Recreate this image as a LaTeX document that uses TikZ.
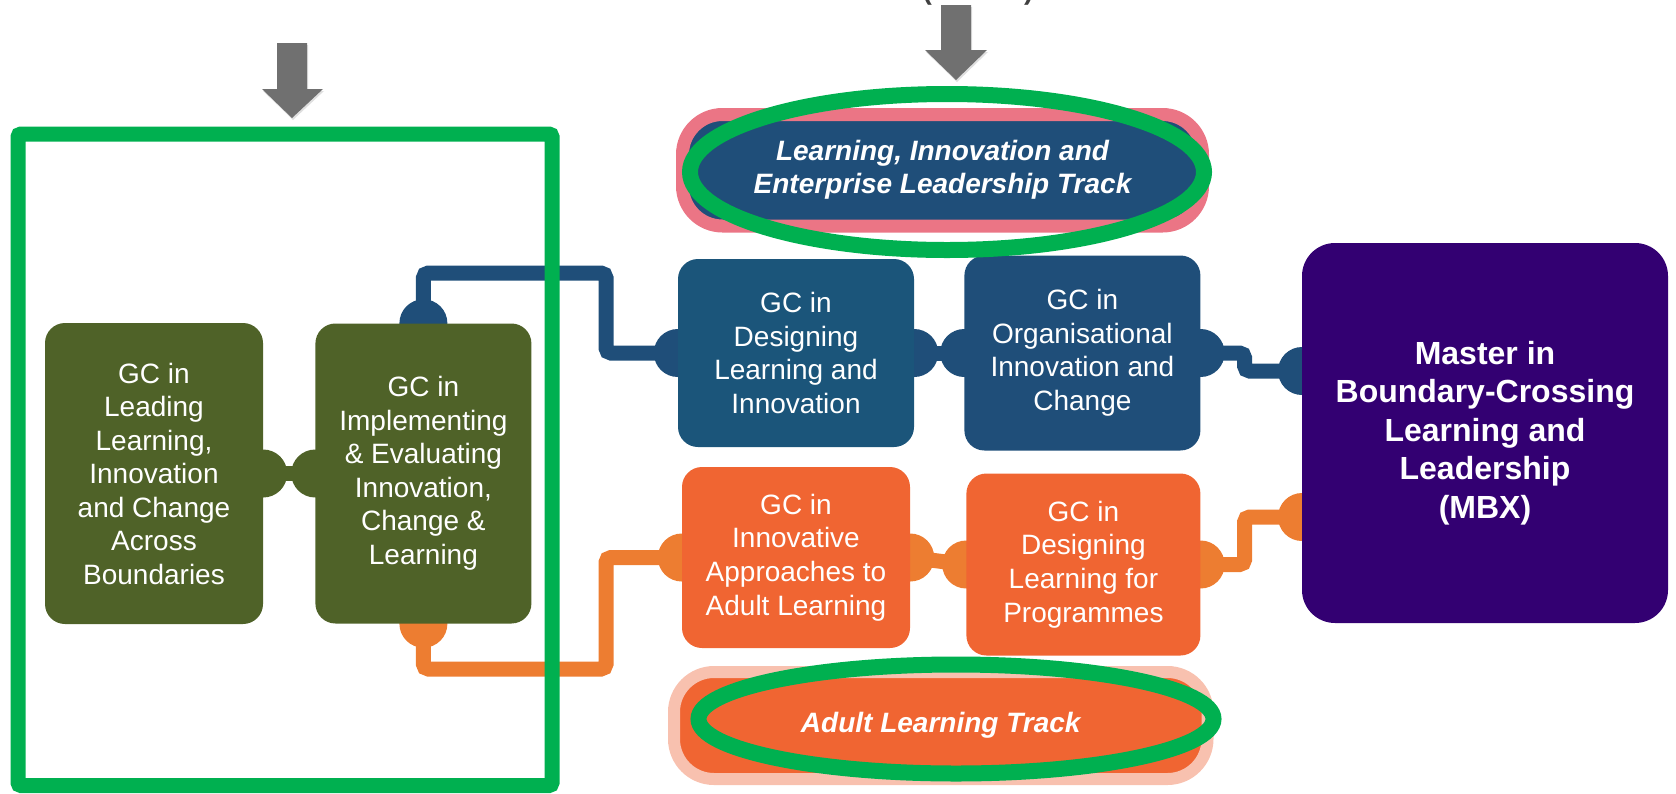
\documentclass[tikz,border=0pt]{standalone}
\usepackage{fontspec}
\setmainfont{Liberation Sans}
\usetikzlibrary{positioning, backgrounds, shadows}

\definecolor{olivebox}{RGB}{79,98,40}
\definecolor{desblue}{RGB}{27,85,122}
\definecolor{orgblue}{RGB}{31,78,121}
\definecolor{linkblue}{RGB}{31,78,121}
\definecolor{orangebox}{RGB}{240,101,50}
\definecolor{linkorange}{RGB}{237,125,49}
\definecolor{mbxpurple}{RGB}{51,0,114}
\definecolor{trackpink}{RGB}{235,117,133}
\definecolor{tracksalmon}{RGB}{248,193,175}
\definecolor{markgreen}{RGB}{0,176,80}
\definecolor{arrowgray}{RGB}{112,112,112}
\definecolor{hintgray}{RGB}{64,64,64}

\begin{document}
\begin{tikzpicture}[x=1pt, y=-1pt,
    gcbox/.style = {rounded corners=20pt, text=white, align=center, inner sep=0pt,
                    font=\fontsize{28}{33.5}\selectfont},
    trackbox/.style = {rounded corners=40pt, text=white, align=center, inner sep=0pt,
                    font=\fontsize{28}{33}\selectfont\bfseries\itshape},
    link/.style = {line width=15pt, rounded corners=5pt},
    greenmark/.style = {draw=markgreen, line width=16pt},
    downarrow/.style = {fill=arrowgray, drop shadow={opacity=0.25, shadow xshift=1pt, shadow yshift=-2pt}}]
    \useasboundingbox (0,0) rectangle (1676,793);

    % graduate certificates
    \node[gcbox, fill=olivebox, minimum width=218pt, minimum height=301pt] (lead) at (154,473.5)
        {GC in\\Leading\\Learning,\\Innovation\\and Change\\Across\\Boundaries};
    \node[gcbox, fill=olivebox, minimum width=216pt, minimum height=300pt] (impl) [right=52pt of lead]
        {GC in\\Implementing\\\& Evaluating\\Innovation,\\Change \&\\Learning};
    \node[gcbox, fill=desblue, minimum width=236pt, minimum height=188pt] (desli) at (796,353)
        {GC in\\Designing\\Learning and\\Innovation};
    \node[gcbox, fill=orgblue, minimum width=236pt, minimum height=195pt] (orgic) [right=50pt of desli]
        {GC in\\Organisational\\Innovation and\\Change};
    \node[gcbox, fill=orangebox, minimum width=228pt, minimum height=181pt] (innov) at (796,557.5)
        {GC in\\Innovative\\Approaches to\\Adult Learning};
    \node[gcbox, fill=orangebox, minimum width=234pt, minimum height=182pt] (desprog) [right=56pt of innov, yshift=-7pt]
        {GC in\\Designing\\Learning for\\Programmes};
    \node[gcbox, rounded corners=33pt, fill=mbxpurple, minimum width=366pt, minimum height=380pt,
          font=\fontsize{32}{38.5}\selectfont\bfseries] (mbx) at (1485,433)
        {Master in\\Boundary-Crossing\\Learning and\\Leadership\\(MBX)};
    \coordinate (mbxlie) at (1302,371);
    \coordinate (mbxal) at (1302,517);
    \coordinate (lieturn) at (606,273);
    \coordinate (alturn) at (606,669);

    % links behind the boxes
    \begin{scope}[on background layer]
        \draw[link, linkblue] (impl.north) |- (lieturn) |- (desli.west);
        \draw[link, linkblue] (orgic.east) -- ++(44,0) |- (mbxlie);
        \draw[link, linkorange] (impl.south) |- (alturn) |- (innov.west);
        \draw[link, linkorange] (desprog.east) -- ++(44,0) |- (mbxal);
        \draw[olivebox, line width=15pt] (lead.east) -- (impl.west);
        \draw[linkblue, line width=15pt] (desli.east) -- (orgic.west);
        \draw[linkorange, line width=15pt] (innov.east) -- (desprog.west);
        \fill[olivebox] (lead.east) circle (24pt) (impl.west) circle (24pt);
        \fill[linkblue] (impl.north) circle (24pt) (desli.west) circle (24pt)
            (desli.east) circle (24pt) (orgic.west) circle (24pt)
            (orgic.east) circle (24pt) (mbxlie) circle (24pt);
        \fill[linkorange] (impl.south) circle (24pt) (innov.west) circle (24pt)
            (innov.east) circle (24pt) (desprog.west) circle (24pt)
            (desprog.east) circle (24pt) (mbxal) circle (24pt);
    \end{scope}

    % tracks
    \node[trackbox, fill=orgblue, draw=trackpink, line width=13pt, minimum width=520pt, minimum height=111.5pt]
        (lietrack) at (942.5,170.25) {Learning, Innovation and\\Enterprise Leadership Track};
    \node[trackbox, fill=orangebox, draw=tracksalmon, line width=12pt, minimum width=533.5pt, minimum height=107pt]
        (altrack) at (940.75,725.5) {Adult Learning Track};

    % highlights
    \draw[greenmark, line width=15pt, rounded corners=3pt] (18,134) rectangle (552,785.5);
    \draw[greenmark] (947,172) ellipse [x radius=257pt, y radius=78pt];
    \draw[greenmark] (956,719) ellipse [x radius=257.5pt, y radius=54.5pt];

    % pointers
    \fill[downarrow] (277,43) -- (307,43) -- (307,89) -- (323,89) -- (292,118) -- (262,89) -- (277,89) -- cycle;
    \fill[downarrow] (941,5) -- (971,5) -- (971,50) -- (987,50) -- (956,80) -- (925,50) -- (941,50) -- cycle;
    \node[anchor=base, text=hintgray, inner sep=0pt, font=\fontsize{28}{33}\selectfont\bfseries] (hint) at (978,-1)
        {(\hspace{92pt})};
\end{tikzpicture}
\end{document}
